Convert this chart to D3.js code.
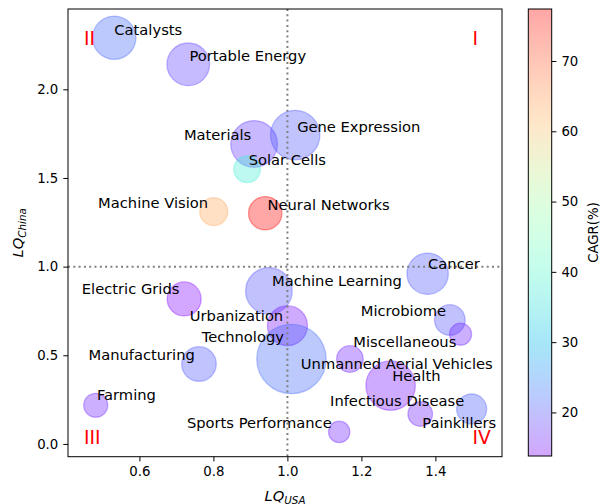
<!DOCTYPE html>
<html>
<head>
<meta charset="utf-8">
<script src="https://cdn.jsdelivr.net/npm/d3@7"></script>
<style>
  body { margin: 0; background: #fff; }
  text { font-family: "DejaVu Sans", sans-serif; }
</style>
</head>
<body>
<div id="chart"></div>
<script>
// fields, LQ values, CAGR and bubble size
var fields = ["Catalysts", "Portable Energy", "Materials", "Gene Expression", "Solar Cells",
  "Machine Vision", "Neural Networks", "Cancer", "Electric Grids", "Machine Learning",
  "Urbanization", "Technology", "Manufacturing", "Farming", "Microbiome",
  "Unmanned Aerial Vehicles", "Miscellaneous", "Health", "Infectious Disease", "Painkillers",
  "Sports Performance"];
var lqUSA = [0.532, 0.732, 0.910, 1.021, 0.891, 0.801, 0.940, 1.379, 0.721, 0.950,
  1.000, 1.011, 0.761, 0.482, 1.439, 1.468, 1.169, 1.279, 1.359, 1.498, 1.140];
var lqChina = [2.291, 2.141, 1.692, 1.742, 1.549, 1.310, 1.301, 0.960, 0.818, 0.863,
  0.667, 0.479, 0.451, 0.218, 0.699, 0.619, 0.479, 0.329, 0.169, 0.197, 0.068];
var cagr = [22, 18.5, 18, 20.5, 38, 63, 77.4, 20.5, 13.8, 20,
  15, 22, 20.5, 16, 20, 16, 16, 15, 16, 21, 16];
var sizes = [470, 455, 545, 610, 177, 196, 279, 428, 289, 543,
  400, 1204, 299, 144, 234, 121, 177, 610, 151, 225, 114];

// annotation positions (data units, left aligned)
var labelX = [0.535, 0.738, 0.723, 1.029, 0.898, 0.491, 0.949, 1.383, 0.447, 0.961,
  0.739, 0.771, 0.465, 0.488, 1.201, 1.039, 1.181, 1.286, 1.118, 1.367, 0.731];
var labelY = [2.309, 2.162, 1.714, 1.759, 1.573, 1.328, 1.322, 0.984, 0.844, 0.888,
  0.696, 0.575, 0.474, 0.245, 0.723, 0.421, 0.545, 0.355, 0.216, 0.092, 0.092];

var quadNames = ["I", "II", "III", "IV"];
var quadX = [1.5, 0.45, 0.45, 1.5];
var quadY = [2.25, 2.25, 0.0, 0.0];

var xTicks = [0.6, 0.8, 1.0, 1.2, 1.4];
var yTicks = [0.0, 0.5, 1.0, 1.5, 2.0];
var cTicks = [20, 30, 40, 50, 60, 70];
var cagrRange = [13.8, 77.4];

var W = 603, H = 504;
var margin = { top: 9, left: 68 },
  width = 434,
  height = 447.7;

var svg = d3.select("#chart").append("svg")
  .attr("width", W)
  .attr("height", H);

var g = svg.append("g")
  .attr("transform", "translate(" + margin.left + "," + margin.top + ")");

var x = d3.scaleLinear().domain([0.407, 1.580]).range([0, width]);
var y = d3.scaleLinear().domain([-0.072, 2.453]).range([height, 0]);
var r = d3.scaleSqrt().domain([0, 1204]).range([0, 34.7]);
var alpha = 0.35;

// matplotlib "rainbow" colormap
function rainbow(t) {
  var cl = function (v) { return Math.max(0, Math.min(1, v)); };
  var rr = cl(Math.abs(2 * t - 0.5)), gg = cl(Math.sin(Math.PI * t)), bb = cl(Math.cos(Math.PI * t / 2));
  return d3.rgb(rr * 255, gg * 255, bb * 255).formatHex();
}
var cNorm = d3.scaleLinear().domain(cagrRange).range([0, 1]).clamp(true);
var color = function (v) { return rainbow(cNorm(v)); };

var data = fields.map(function (f, i) {
  return { name: f, x: lqUSA[i], y: lqChina[i], c: cagr[i], s: sizes[i], lx: labelX[i], ly: labelY[i] };
});

// ======== bubbles ========
g.selectAll(".bubble")
  .data(data)
  .enter().append("circle")
  .attr("class", "bubble")
  .attr("cx", function (d) { return x(d.x); })
  .attr("cy", function (d) { return y(d.y); })
  .attr("r", function (d) { return r(d.s); })
  .attr("fill", function (d) { return color(d.c); })
  .attr("fill-opacity", alpha)
  .attr("stroke", function (d) { return color(d.c); })
  .attr("stroke-opacity", alpha)
  .attr("stroke-width", 1.3);

// reference lines at LQ = 1
g.append("line")
  .attr("x1", x(1)).attr("x2", x(1))
  .attr("y1", 0).attr("y2", height)
  .attr("stroke", "#808080").attr("stroke-width", 2)
  .attr("stroke-dasharray", "2,3.3");
g.append("line")
  .attr("x1", 0).attr("x2", width)
  .attr("y1", y(1)).attr("y2", y(1))
  .attr("stroke", "#808080").attr("stroke-width", 2)
  .attr("stroke-dasharray", "2,3.3");

// labels
g.selectAll(".lbl")
  .data(data)
  .enter().append("text")
  .attr("class", "lbl")
  .attr("x", function (d) { return x(d.lx) - 1; })
  .attr("y", function (d) { return y(d.ly); })
  .attr("font-size", "14.7px")
  .attr("fill", "#000")
  .text(function (d) { return d.name; });

g.selectAll(".quad")
  .data(quadNames)
  .enter().append("text")
  .attr("class", "quad")
  .attr("x", function (d, i) { return x(quadX[i]); })
  .attr("y", function (d, i) { return y(quadY[i]); })
  .attr("font-size", "18.7px")
  .attr("fill", "red")
  .text(function (d) { return d; });

// ======== axes ========
var xAxis = d3.axisBottom(x).tickValues(xTicks).tickFormat(d3.format(".1f")).tickSizeOuter(0).tickSize(4.7).tickPadding(5);
var yAxis = d3.axisLeft(y).tickValues(yTicks).tickFormat(d3.format(".1f")).tickSizeOuter(0).tickSize(4.7).tickPadding(5);

var gx = g.append("g").attr("transform", "translate(0," + height + ")").call(xAxis);
var gy = g.append("g").call(yAxis);
[gx, gy].forEach(function (a) {
  a.select(".domain").remove();
  a.selectAll("text").attr("font-size", "13.3px").attr("font-family", "DejaVu Sans").attr("fill", "#000");
  a.selectAll("line").attr("stroke", "#000").attr("stroke-width", 1);
});
gx.selectAll("text").attr("dy", "0.75em");

g.append("rect")
  .attr("width", width).attr("height", height)
  .attr("fill", "none").attr("stroke", "#000").attr("stroke-width", 1);

// axis titles
var xl = svg.append("text")
  .attr("x", margin.left + width / 2).attr("y", 500.5)
  .attr("text-anchor", "middle").attr("font-size", "14.7px").attr("font-style", "italic");
xl.append("tspan").text("LQ");
xl.append("tspan").attr("font-size", "10.3px").attr("dy", 3).text("USA");

var yl = svg.append("text")
  .attr("transform", "translate(23," + (margin.top + height / 2) + ") rotate(-90)")
  .attr("text-anchor", "middle").attr("font-size", "14.7px").attr("font-style", "italic");
yl.append("tspan").text("LQ");
yl.append("tspan").attr("font-size", "10.3px").attr("dy", 3).text("China");

// ======== colorbar ========
var cb = { x: 528.3, y: 9, w: 23.4, h: 447 };
var cy = d3.scaleLinear().domain(cagrRange).range([cb.y + cb.h, cb.y]);

var grad = svg.append("defs").append("linearGradient")
  .attr("id", "cgrad")
  .attr("x1", 0).attr("y1", 1).attr("x2", 0).attr("y2", 0);
grad.selectAll("stop")
  .data(d3.range(0, 1.0001, 0.02))
  .enter().append("stop")
  .attr("offset", function (t) { return t; })
  .attr("stop-color", function (t) { return rainbow(t); });

svg.append("rect")
  .attr("x", cb.x).attr("y", cb.y).attr("width", cb.w).attr("height", cb.h)
  .attr("fill", "url(#cgrad)").attr("fill-opacity", alpha);

var cAxis = d3.axisRight(cy).tickValues(cTicks).tickFormat(d3.format("d")).tickSizeOuter(0).tickSize(4.7).tickPadding(5);
var gc = svg.append("g").attr("transform", "translate(" + (cb.x + cb.w) + ",0)").call(cAxis);
gc.select(".domain").remove();
gc.selectAll("text").attr("font-size", "13.3px").attr("font-family", "DejaVu Sans").attr("fill", "#000");
gc.selectAll("line").attr("stroke", "#000");

svg.append("rect")
  .attr("x", cb.x).attr("y", cb.y).attr("width", cb.w).attr("height", cb.h)
  .attr("fill", "none").attr("stroke", "#000").attr("stroke-width", 1);

svg.append("text")
  .attr("transform", "translate(598," + (cb.y + cb.h / 2) + ") rotate(-90)")
  .attr("text-anchor", "middle").attr("font-size", "13.3px")
  .text("CAGR(%)");
</script>
</body>
</html>
